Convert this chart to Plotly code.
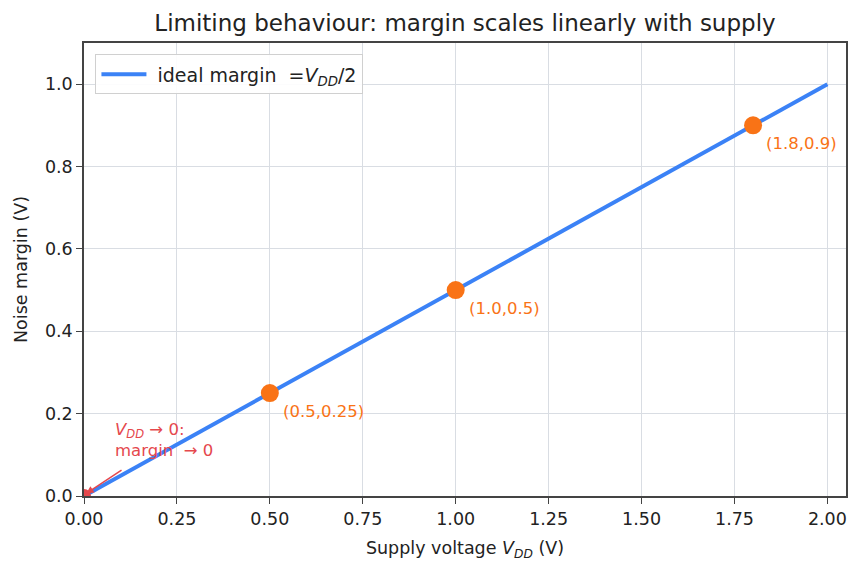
import plotly.graph_objects as go

line_x = [0.0, 2.0]
line_y = [0.0, 1.0]
pts_x = [0.5, 1.0, 1.8]
pts_y = [0.25, 0.5, 0.9]
pt_labels = ["(0.5,0.25)", "(1.0,0.5)", "(1.8,0.9)"]
limit_x = [0.0]
limit_y = [0.0]

BLUE = "#3b82f6"
ORANGE = "#f97316"
RED = "#e5484d"
FONT = "DejaVu Sans"
TXT = "#222"
VDD = "<i>V<sub>DD</sub></i>"

fig = go.Figure()
fig.add_trace(go.Scatter(x=line_x, y=line_y, mode="lines",
                         line=dict(color=BLUE, width=4),
                         name=" ideal margin  =" + VDD + "/2"))
fig.add_trace(go.Scatter(x=pts_x, y=pts_y, mode="markers",
                         marker=dict(color=ORANGE, size=18), showlegend=False))
fig.add_trace(go.Scatter(x=limit_x, y=limit_y, mode="markers",
                         marker=dict(color=RED, size=14), showlegend=False))

for x, y, t in zip(pts_x, pts_y, pt_labels):
    fig.add_annotation(x=x, y=y, text=t, showarrow=False, xanchor="left", yanchor="middle",
                       xshift=11, yshift=-18, font=dict(color=ORANGE, size=16.5, family=FONT))

fig.add_annotation(x=0.079, y=0.136, text=VDD + " → 0:<br>margin  → 0",
                   showarrow=False, xanchor="left", yanchor="middle", align="left",
                   font=dict(color=RED, size=16.5, family=FONT))
fig.add_annotation(x=0.006, y=0.006, ax=0.105, ay=0.065, axref="x", ayref="y",
                   text="", showarrow=True, arrowhead=2, arrowsize=1, arrowwidth=1.5,
                   arrowcolor=RED)

axis_common = dict(showline=True, linecolor="#444", linewidth=1.5, mirror=True,
                   ticks="outside", ticklen=6, tickwidth=1.3, tickcolor="#444",
                   showgrid=True, gridcolor="#d9dde3", gridwidth=1, zeroline=False,
                   tickfont=dict(size=17.5, color=TXT, family=FONT),
                   title_font=dict(size=17.5, color=TXT, family=FONT))

fig.update_xaxes(range=[0, 2.05], tickvals=[0, 0.25, 0.5, 0.75, 1.0, 1.25, 1.5, 1.75, 2.0],
                 ticktext=["0.00", "0.25", "0.50", "0.75", "1.00", "1.25", "1.50", "1.75", "2.00"],
                 title=dict(text="Supply voltage " + VDD + " (V)", standoff=14), **axis_common)
fig.update_yaxes(range=[0, 1.1], tickvals=[0, 0.2, 0.4, 0.6, 0.8, 1.0],
                 ticktext=["0.0", "0.2", "0.4", "0.6", "0.8", "1.0"],
                 title=dict(text="Noise margin (V)", standoff=13), **axis_common)

fig.update_layout(
    width=861, height=573,
    margin=dict(l=84, r=15, t=43, b=77),
    plot_bgcolor="white", paper_bgcolor="white",
    font=dict(family=FONT, color=TXT),
    title=dict(text="Limiting behaviour: margin scales linearly with supply",
               xref="paper", x=0.5, xanchor="center", y=0.96, yanchor="middle",
               font=dict(size=23, color=TXT, family=FONT)),
    legend=dict(x=0.015, y=0.975, xanchor="left", yanchor="top",
                bgcolor="rgba(255,255,255,0.9)", bordercolor="#d0d0d0", borderwidth=1,
                itemwidth=45,
                font=dict(size=19, family=FONT, color=TXT)),
)

fig.write_html("out.html")
